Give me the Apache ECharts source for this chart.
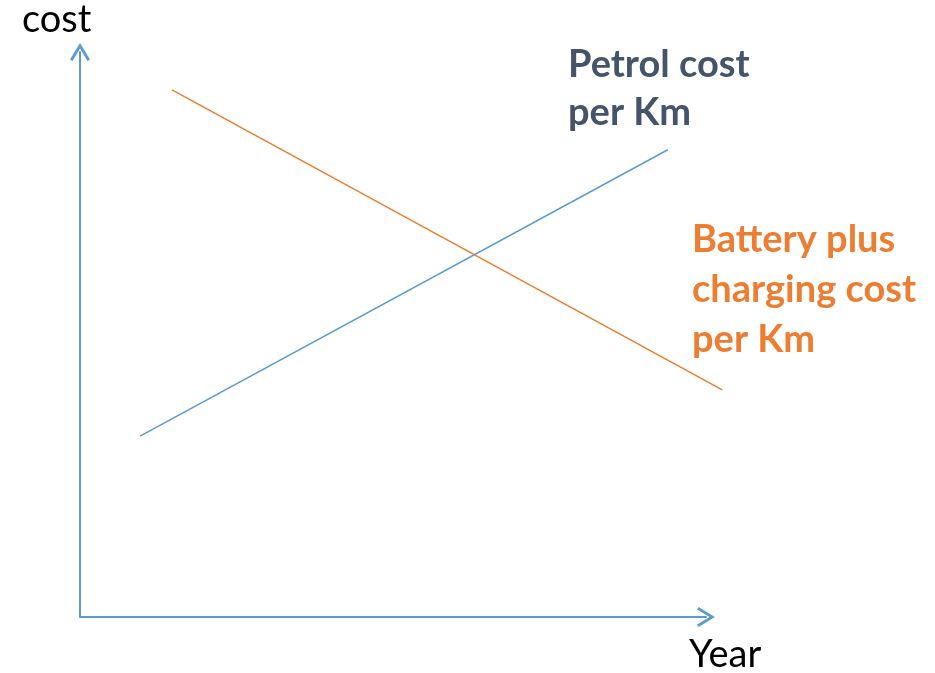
<!DOCTYPE html>
<html><head><meta charset="utf-8">
<script src="https://cdn.jsdelivr.net/npm/echarts@6/dist/echarts.min.js"></script>
<style>html,body{margin:0;padding:0;background:#fff}#c{width:935px;height:673px}</style>
</head><body><div id="c"></div>
<script>
// Data (arbitrary units)
const petrolYears = [0.96, 9.39];
const petrolCost = [3.20, 8.27];
const batteryYears = [1.47, 10.26];
const batteryCost = [9.33, 4.02];
const axisNames = ['Year', 'cost'];
const seriesNames = ['Petrol cost\nper Km', 'Battery plus\ncharging cost\nper Km'];

const chevron = 'path://M5,0 L10.6,9.2 L9.2,10 L5,3 L0.8,10 L-0.6,9.2 Z';
const hidden = {axisLine: {show: false}, axisTick: {show: false}, axisLabel: {show: false}, splitLine: {show: false}};
const chart = echarts.init(document.getElementById('c'));
chart.setOption({
  animation: false,
  grid: [
    {left: 80, right: 229, top: 52, bottom: 56},
    {left: 80, right: 197.7, top: 52, bottom: 56}
  ],
  title: [
    {text: axisNames[1], left: 22, top: 0, padding: 0,
     textStyle: {fontFamily: 'Lato', fontWeight: 'normal', fontSize: 38, color: '#000', lineHeight: 40}},
    {text: axisNames[0], left: 689, top: 635, padding: 0,
     textStyle: {fontFamily: 'Lato', fontWeight: 'normal', fontSize: 38, color: '#000', lineHeight: 40}},
    {text: seriesNames[0], left: 568, top: 41, padding: 0,
     textStyle: {fontFamily: 'Lato', fontWeight: 'bold', fontSize: 38, color: '#44546A', lineHeight: 48}},
    {text: seriesNames[1], left: 692, top: 215, padding: 0,
     textStyle: {fontFamily: 'Lato', fontWeight: 'bold', fontSize: 38, color: '#ED7D31', lineHeight: 50}}
  ],
  xAxis: [
    {type: 'value', gridIndex: 0, min: 0, max: 10,
     axisLine: {show: true, lineStyle: {color: '#5B9BD5', width: 2}, symbol: ['none', chevron], symbolSize: [20, 18]},
     axisTick: {show: false}, axisLabel: {show: false}, splitLine: {show: false}},
    Object.assign({type: 'value', gridIndex: 1, min: 0, max: 10.5}, hidden)
  ],
  yAxis: [
    {type: 'value', gridIndex: 0, min: 0, max: 10,
     axisLine: {show: true, lineStyle: {color: '#5B9BD5', width: 2}, symbol: ['none', chevron], symbolSize: [20, 18]},
     axisTick: {show: false}, axisLabel: {show: false}, splitLine: {show: false}},
    Object.assign({type: 'value', gridIndex: 1, min: 0, max: 10}, hidden)
  ],
  series: [
    {type: 'line', name: 'Petrol', xAxisIndex: 1, yAxisIndex: 1, clip: false, showSymbol: false, symbol: 'none',
     data: petrolYears.map((x, i) => [x, petrolCost[i]]),
     lineStyle: {color: '#5B9BD5', width: 1.5}},
    {type: 'line', name: 'Battery', xAxisIndex: 1, yAxisIndex: 1, clip: false, showSymbol: false, symbol: 'none',
     data: batteryYears.map((x, i) => [x, batteryCost[i]]),
     lineStyle: {color: '#ED7D31', width: 1.5}}
  ]
});
</script></body></html>
